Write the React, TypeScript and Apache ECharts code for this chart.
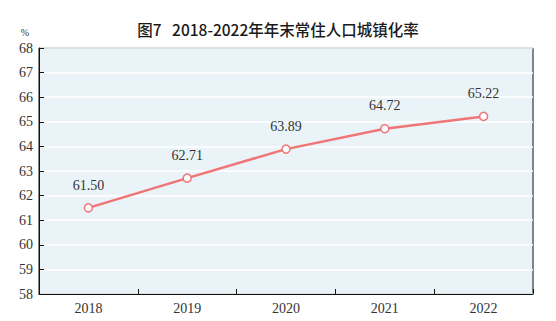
import React, { useEffect, useRef } from "react";
import * as echarts from "echarts";

const years = ["2018", "2019", "2020", "2021", "2022"];
const urbanRate = [61.5, 62.71, 63.89, 64.72, 65.22];
const yMin = 58;
const yMax = 68;
const titleText = "图7\u00a0\u00a0\u00a02018-2022年年末常住人口城镇化率";

export default function App() {
  const ref = useRef<HTMLDivElement>(null);

  useEffect(() => {
    if (!ref.current) return;
    const chart = echarts.init(ref.current, null, { renderer: "svg" });
    const serif = "Liberation Serif";
    chart.setOption({
      animation: false,
      backgroundColor: "#ffffff",
      title: {
        text: titleText,
        left: "center",
        top: 16,
        textStyle: {
          fontFamily: "Noto Sans CJK SC",
          fontSize: 15.5,
          fontWeight: 500,
          color: "#1a1a1a",
        },
      },
      grid: {
        left: 39,
        top: 48,
        width: 494,
        height: 246,
        show: true,
        backgroundColor: "#EAF3F7",
        borderColor: "#111",
        borderWidth: 1,
      },
      xAxis: {
        type: "category",
        data: years,
        boundaryGap: true,
        axisLine: { show: true, lineStyle: { color: "#111", width: 1 } },
        axisTick: { show: true, inside: true, length: 5, lineStyle: { color: "#111" } },
        axisLabel: { color: "#333", fontFamily: serif, fontSize: 14, margin: 7 },
        splitLine: { show: false },
      },
      yAxis: {
        type: "value",
        min: yMin,
        max: yMax,
        interval: 1,
        name: "%",
        nameLocation: "end",
        nameGap: 11,
        nameTextStyle: { color: "#333", fontFamily: serif, fontSize: 10, padding: [0, 28, 0, 0] },
        axisLine: { show: true, lineStyle: { color: "#111", width: 1 } },
        axisTick: { show: true, inside: true, length: 5, lineStyle: { color: "#111" } },
        axisLabel: { color: "#333", fontFamily: serif, fontSize: 14, margin: 6 },
        splitLine: { show: true, lineStyle: { color: "#ffffff", width: 1.5 } },
      },
      series: [
        {
          type: "line",
          data: urbanRate,
          symbol: "circle",
          symbolSize: 8,
          lineStyle: { color: "#F07577", width: 2.5 },
          itemStyle: { color: "#ffffff", borderColor: "#F07577", borderWidth: 1.5 },
          label: {
            show: true,
            position: "top",
            distance: 11,
            fontFamily: serif,
            fontSize: 14,
            color: "#333",
            formatter: (p: any) => Number(p.value).toFixed(2),
          },
        },
      ],
    });
    return () => chart.dispose();
  }, []);

  return (
    <div
      ref={ref}
      style={{ position: "absolute", left: 0, top: 0, width: 556, height: 321 }}
    />
  );
}
